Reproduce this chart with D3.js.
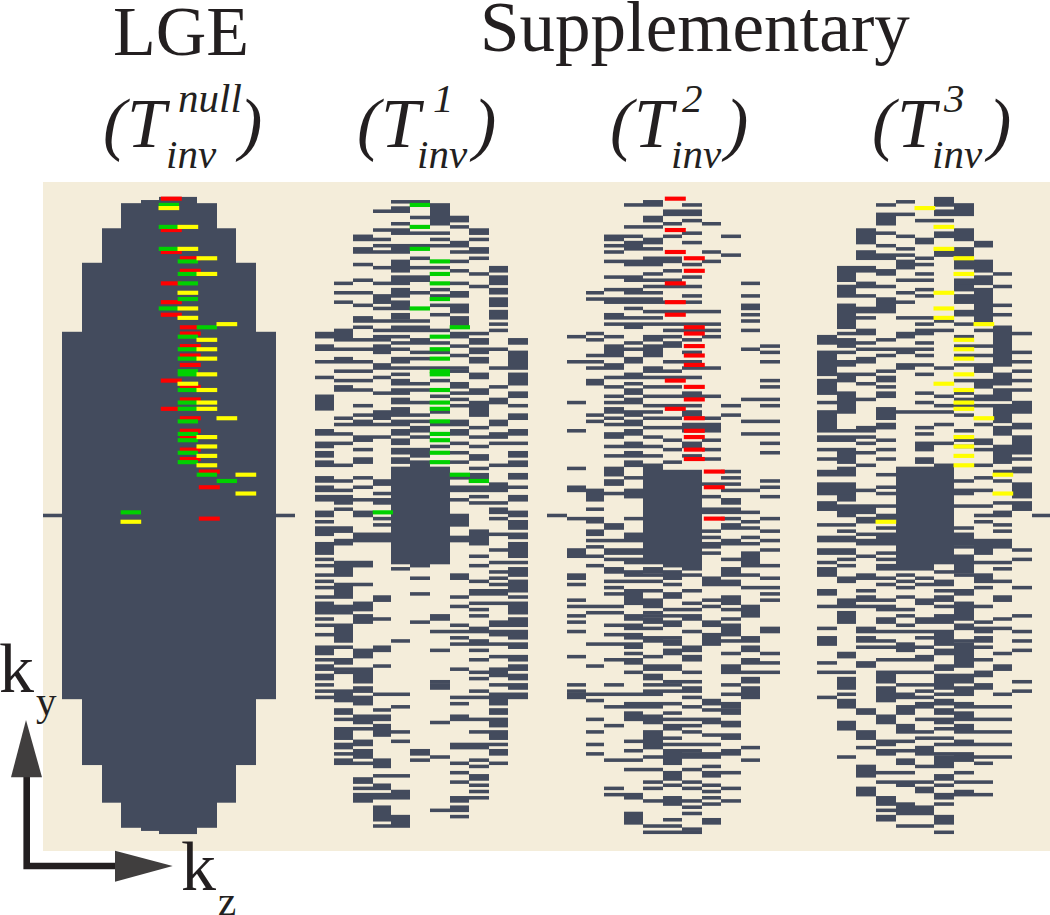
<!DOCTYPE html>
<html>
<head>
<meta charset="utf-8">
<style>
  html, body { margin: 0; padding: 0; background: #fff; }
  svg { display: block; }
  text { font-family: "Liberation Serif", serif; fill: #231f20; }
</style>
<script src="https://cdn.jsdelivr.net/npm/d3@7"></script>
</head>
<body>
<div class="chart"></div>
<script>
// rows sampled per kz column: a number is one ky row, a pair is a run of rows
const lgeDark = [
  [[43,159]], [[21,180]], [[10,192]], [[2,200]], [[1,201]], [[0,202]],
  [[0,202]], [[2,200]], [[10,192]], [[21,180]], [[43,159]]
];

const t1Dark = [
  [[43,44],[47,48],52,57,[63,67],[74,75],[78,79],[81,82],[84,85],[89,90],[92,93],[95,96],[100,101],103,[105,107],[110,113],115,117,120,122,124,127,[129,132],134,136,139,[143,145],147,[149,150],[152,153],155,157,159],
  [27,30,33,[42,45],48,[51,52],55,58,[60,61],70,72,75,78,85,90,93,[95,97],99,[105,106],[109,110],[116,120],[123,127],[130,132],[136,141],143,[147,148],150,151,[157,160],[163,164],166,[169,172],[174,175],177,[179,180]],
  [[12,13],[16,17],21,26,30,34,[38,39],41,45,48,52,55,58,61,66,69,[71,72],[76,77],80,[83,84],89,92,96,[100,101],107,[108,109],[116,117],123,[129,131],[133,135],[144,146],[150,154],[156,157],[159,161],[165,167],169,[173,174],[176,178],180,[185,186],188,[190,192]],
  [4,10,13,15,17,22,27,[31,33],35,39,42,44,45,[47,49],[53,54],57,62,[68,70],72,76,[90,91],94,[96,97],102,104,[107,109],[127,128],134,[143,144],149,158,163,[165,166],[168,171],[179,181],184,[187,188],[190,191],[194,198],200],
  [1,[3,4],8,[10,11],[15,17],[20,23],[25,27],[29,31],[33,35],[37,38],39,[41,42],44,46,48,[51,52],54,56,[58,59],[61,62],[64,65],[67,69],[71,72],[74,75],[77,78],[80,81],[83,84],[86,116],118,141,158,162,170,173,184,[189,191],[197,200]],
  [1,6,11,15,19,22,[25,26],30,39,[41,42],[45,46],49,51,54,59,61,65,69,71,[73,74],76,[80,82],[84,117],121,126,135,[176,177],179],
  [[2,8],11,13,15,22,29,31,34,37,42,46,49,54,58,63,68,72,79,[86,116],[133,134],138,144,154,[155,156],167,178,195],
  [[6,7],9,[14,15],17,20,23,27,[30,31],[34,36],[38,40],[43,44],47,50,54,55,[59,60],62,64,66,[71,72],[74,75],78,81,84,89,[92,93],96,101,102,[103,104],108,109,[120,121],127,130,136,138,140,142,150,159,161,[165,166],[174,175],180,183,186,[191,192],[194,195],197],
  [[10,11],13,[16,17],19,24,28,43,[45,46],[48,49],[51,52],[56,57],[61,62],[65,69],73,76,79,[82,83],86,[88,89],[92,93],95,97,[106,110],114,117,122,[125,126],129,131,133,[137,138],[141,142],144,147,151,153,157,159,166,170,[174,175],179,181,[184,185],187,189,191],
  [[22,23],[25,27],[29,30],[32,34],[36,38],40,42,48,54,60,[64,65],[71,72],[75,76],78,85,[91,93],97,[99,100],102,107,112,116,119,121,123,[125,126],129,[135,136],[138,139],142,146,[150,152],155,[158,161],[163,164],[166,168],[170,172],174,[176,177],180],
  [[45,46],[49,54],[56,59],[62,63],66,[69,70],[74,75],78,[81,82],[84,85],[88,89],92,[95,96],[100,101],[103,105],[107,108],[110,114],116,[118,120],[122,125],127,[129,132],[134,136],[138,140],[142,143],[146,147],[149,150],[152,153],[155,156],[158,159]]
];

const t2Dark = [
  [44,52,65,74,86,[92,93],102,[112,114],[120,121],123,128,130,133,135,138,146,155,157,[158,159]],
  [30,32,43,45,50,52,54,[58,59],69,71,[93,96],99,102,103,[106,107],109,111,114,117,130,132,142,149,158,160,166,170,174,177],
  [[12,13],15,17,20,25,29,[32,33],[37,38],40,44,[47,50],[53,54],57,60,63,65,[67,68],70,72,[75,76],79,82,[86,88],[90,91],94,[104,105],109,[112,113],115,[118,119],122,124,126,130,132,136,139,142,147,155,158,162,168,179,188,190],
  [2,9,12,[14,16],[20,21],[25,26],[29,30],[32,33],35,38,[40,41],46,48,[51,52],[56,57],59,[61,62],[64,65],[68,69],[71,72],[74,75],[78,79],[81,82],[84,85],89,[93,95],102,[107,108],109,[112,113],115,116,[119,120],122,[125,129],[133,134],[136,137],[139,140],[142,143],145,[147,148],151,158,[161,162],[164,166],173,176,179,182,190,191,196,[197,199]],
  [[1,2],[6,7],9,[13,14],16,[19,21],24,26,28,30,[32,33],36,38,40,[44,45],[47,50],[54,55],57,60,63,66,68,70,73,76,79,82,[85,116],[118,119],120,122,125,[128,130],132,133,[134,135],137,[140,141],146,[149,150],[152,153],155,[157,158],[161,162],[165,167],[170,175],178,182,186,188,192,200,202],
  [[4,5],8,12,[19,20],23,26,28,33,36,40,42,44,[46,47],52,55,57,60,63,66,70,73,77,80,84,[87,117],[119,121],123,[126,127],131,133,[135,136],140,[141,142],[144,145],[149,150],154,155,157,161,164,166,[168,169],172,174,[176,180],[183,185],187,[191,193],198,200,202],
  [2,[4,5],7,11,14,21,25,28,31,33,36,40,42,45,49,52,54,57,[62,63],66,[68,69],[72,74],[78,79],82,[87,118],120,125,129,131,[133,134],138,[143,144],[146,147],151,154,[156,157],159,162,166,168,170,174,176,[177,178],182,186,188,192,194,196,201,202],
  [8,17,20,36,40,42,44,54,63,70,[72,74],77,80,83,91,95,[99,100],106,108,[110,111],113,[121,123],128,130,[135,136],[139,142],[160,161],163,[166,167],171,174,[177,178],181,[183,184],187,189,191,193,[198,199]],
  [12,18,66,69,87,89,91,93,[96,97],[99,100],102,[104,105],[109,110],115,[118,120],[122,123],[127,129],131,134,[136,139],141,145,[149,151],155,158,[161,162],[163,164],[167,168],[171,172],[176,177],183,188,192],
  [27,31,[34,35],37,39,42,48,64,71,75,93,100,103,105,108,110,[113,117],120,124,[130,133],[140,141],[143,144],[147,148],151,[153,154],[156,159],175,179],
  [47,49,52,58,60,64,66,71,75,78,81,90,92,95,102,106,109,112,117,121,124,126,128,[137,138],145,148,151]
];

const t3Dark = [
  [[44,46],[49,56],[58,62],65,[68,74],[76,77],80,83,[87,88],[91,94],[97,99],104,[108,109],[112,113],116,[118,120],[125,126],130,137,[140,142],148,151,159],
  [[22,26],[28,31],[34,41],43,[45,47],49,[52,53],[56,58],[62,68],74,[76,77],[80,84],[86,88],[91,94],[95,96],[98,101],104,106,[108,109],[112,113],115,117,[121,122],[128,130],[132,135],[145,146],151,[153,156],158,[160,162],[167,169],178],
  [[10,14],[17,19],[22,23],[27,28],31,[35,36],38,42,43,46,48,[51,52],56,59,64,[73,74],76,78,81,85,93,[98,99],100,102,103,107,[109,110],114,[120,121],125,[127,128],130,[137,138],[140,141],143,[148,149],[163,164],[170,172],175,[181,184],[188,190]],
  [2,[5,8],11,15,[18,19],[23,24],28,[32,36],45,48,50,55,[57,58],60,[62,63],[67,70],[72,73],77,80,83,88,92,94,98,[101,102],105,[107,108],[109,110],113,115,[117,118],121,123,128,[130,131],[134,135],138,141,143,147,[151,154],[156,160],[165,167],[173,174],[176,177],183,186,[191,193],195,[197,198]],
  [1,5,12,16,18,[20,22],26,30,33,38,[43,44],[48,49],[53,54],68,[86,118],120,122,124,127,131,133,136,138,[142,144],147,151,155,[158,159],[162,164],[168,170],173,176,[179,180],183,[186,187],[193,196],200],
  [7,[13,14],19,21,24,26,29,31,38,40,[42,43],46,48,50,53,56,62,65,68,73,75,[78,80],[83,84],[86,118],121,123,[128,129],[134,135],138,140,143,[146,147],151,155,157,159,[161,162],166,170,172,[175,177],181,186,[188,189],[194,196],200],
  [[0,2],[4,5],7,[11,12],[17,18],39,42,54,63,66,68,72,78,[85,116],119,[122,123],125,[127,128],130,[133,135],[138,142],[144,145],[149,150],[152,156],158,[160,161],[163,164],[166,167],169,172,174,177,[178,181],[184,185],187,[190,191],193,[197,199],202],
  [[2,5],[10,13],[16,18],[20,22],[26,27],[28,29],[31,33],[36,37],40,44,47,50,53,58,62,64,66,69,74,77,79,90,[93,94],98,105,[107,110],111,[114,119],120,[125,126],[129,134],[136,137],141,[142,149],[152,154],[156,158],[161,162],[164,166],[168,170],[173,174],[177,179],183,186,189,190],
  [[14,15],[20,23],[25,27],[29,39],42,47,50,[53,55],[58,60],[63,64],66,72,[77,78],80,85,89,93,98,101,103,[109,113],116,[120,122],124,130,135,[137,138],[140,141],143,147,[151,152],[155,156],162,166,170,174,178,180,186,190],
  [24,28,34,37,[41,53],[56,59],[61,64],[66,71],[73,75],[79,84],87,90,97,[100,101],104,106,[109,111],116,118,122,[127,128],134,137,145,[149,150],158,162,166,170,174,178],
  [43,49,52,55,58,61,[65,68],[72,73],[76,81],83,[86,87],[91,95],[97,99],112,115,124,133,138,141,144,154,157]
];

// [kz column, ky row] of the shots coloured in each supplementary scan
const greenShots = [[5,2],[5,9],[5,16],[6,20],[6,24],[6,27],[6,32],[5,35],[7,41],[6,44],[6,48],[6,51],[6,55],[6,56],[6,61],[6,65],[6,67],[6,71],[6,75],[6,77],[6,81],[6,84],[7,88],[8,90],[3,100]];
const redShots = [[5,0],[5,10],[5,17],[6,19],[6,23],[5,27],[5,33],[5,37],[6,41],[6,43],[6,47],[6,50],[6,53],[5,58],[6,60],[6,64],[5,67],[6,70],[6,74],[6,76],[6,80],[6,83],[7,87],[7,92],[7,102]];
const yellowShots = [[5,3],[6,9],[6,16],[7,19],[7,24],[6,30],[6,35],[6,38],[8,40],[7,45],[7,48],[7,51],[7,56],[6,59],[7,61],[7,65],[7,67],[8,70],[7,76],[7,79],[7,82],[7,85],[9,88],[9,94],[3,103]];

const centreRow = 101;
const rowCount = 204;

const margin = {top: 197.1, bottom: 837};
const dark = '#434b5d';

// measured left edges of the columns, one more for the right side
const lgeEdges = [62.3, 82, 101.7, 121, 140.7, 158.7, 178, 197.3, 216.7, 236.3, 256, 275.7];
const t1Edges = [314.7, 334, 353.3, 373, 391, 410.3, 430, 449.7, 469, 488.7, 508.3, 527.7];
const t2Edges = [566.7, 586, 604.3, 623.7, 643.3, 662.7, 682.3, 702, 721.3, 741, 760.3, 780];
const t3Edges = [817.3, 837, 856.3, 876, 895.7, 915, 934.3, 954, 973.7, 993, 1012.3, 1032];

const panels = [
  {dark: lgeDark, edges: lgeEdges, sides: [-1, 11], shots: ['red', 'green', 'yellow']},
  {dark: t1Dark, edges: t1Edges, sides: [], shots: ['green']},
  {dark: t2Dark, edges: t2Edges, sides: [-1], shots: ['red']},
  {dark: t3Dark, edges: t3Edges, sides: [11], shots: ['yellow']}
];

const shotStyles = {
  red: {data: redShots, fill: '#ff0000', dx: 1.8, w: 21},
  green: {data: greenShots, fill: '#00d000', dx: -0.3, w: 20.3},
  yellow: {data: yellowShots, fill: '#ffff00', dx: -0.5, w: 20.7}
};

const labels = [
  {t: 'LGE', x: 113, y: 55, s: 70},
  {t: 'Supplementary', x: 480, y: 51, s: 71},
  {t: '(', x: 103, y: 147, s: 70, i: 1}, {t: 'T', x: 127, y: 147, s: 70, i: 1},
  {t: 'null', x: 178, y: 112, s: 41, i: 1}, {t: 'inv', x: 166, y: 168, s: 41, i: 1}, {t: ')', x: 239, y: 147, s: 70, i: 1},
  {t: '(', x: 357, y: 147, s: 70, i: 1}, {t: 'T', x: 381, y: 147, s: 70, i: 1},
  {t: '1', x: 433, y: 112, s: 41, i: 1}, {t: 'inv', x: 417, y: 168, s: 41, i: 1}, {t: ')', x: 473, y: 147, s: 70, i: 1},
  {t: '(', x: 610, y: 147, s: 70, i: 1}, {t: 'T', x: 634, y: 147, s: 70, i: 1},
  {t: '2', x: 682, y: 112, s: 41, i: 1}, {t: 'inv', x: 671, y: 168, s: 41, i: 1}, {t: ')', x: 725, y: 147, s: 70, i: 1},
  {t: '(', x: 872, y: 147, s: 70, i: 1}, {t: 'T', x: 897, y: 147, s: 70, i: 1},
  {t: '3', x: 944, y: 112, s: 41, i: 1}, {t: 'inv', x: 932, y: 168, s: 41, i: 1}, {t: ')', x: 988, y: 147, s: 70, i: 1},
  {t: 'k', x: -1, y: 692, s: 70}, {t: 'y', x: 36, y: 715, s: 41},
  {t: 'k', x: 181, y: 890, s: 70}, {t: 'z', x: 218, y: 915, s: 41}
];

const svg = d3.select('.chart')
  .append('svg')
  .attr('width', 1050)
  .attr('height', 915);

svg.append('rect')
  .attr('x', 43)
  .attr('y', 182)
  .attr('width', 1007)
  .attr('height', 669)
  .style('fill', '#f4edda');

let yScale = d3.scaleBand()
  .domain(d3.range(rowCount))
  .range([margin.top, margin.bottom]);

// a number stays one row, a pair stays a run
const toRuns = (columns) => columns.flatMap((rows, col) =>
  rows.map(r => Array.isArray(r) ? {col, from: r[0], to: r[1]} : {col, from: r, to: r}));

panels.forEach(panel => {
  // piecewise so the slightly uneven columns of the figure are kept,
  // rounded so neighbouring columns show no seam
  let xScale = d3.scaleLinear()
    .domain(d3.range(-1, 13))
    .rangeRound([panel.edges[0] - 19.4, ...panel.edges, panel.edges[11] + 19.4]);

  let g = svg.append('g');
  let runs = toRuns(panel.dark).concat(panel.sides.map(col => ({col, from: centreRow, to: centreRow})));

  g.selectAll('rect.dark')
    .data(runs)
    .enter()
    .append('rect')
    .attr('class', 'dark')
    .attr('x', d => xScale(d.col))
    .attr('y', d => yScale(d.from) - 0.2)
    .attr('width', d => xScale(d.col + 1) - xScale(d.col))
    .attr('height', d => yScale(d.to) + yScale.bandwidth() - yScale(d.from) + 0.4)
    .style('fill', dark);

  panel.shots.forEach(name => {
    let st = shotStyles[name];
    g.selectAll('rect.' + name)
      .data(st.data)
      .enter()
      .append('rect')
      .attr('class', name)
      .attr('x', d => xScale(d[0]) + st.dx)
      .attr('y', d => yScale(d[1]) - 0.5)
      .attr('width', st.w)
      .attr('height', yScale.bandwidth() + 1)
      .style('fill', st.fill);
  });
});

// ky / kz arrows
svg.append('path')
  .attr('d', 'M26.7 777V866H115')
  .style('fill', 'none')
  .style('stroke', '#231f20')
  .style('stroke-width', 6.6);
svg.append('path')
  .attr('d', 'M26 720L42 777.3H11Z')
  .style('fill', '#403e3e');
svg.append('path')
  .attr('d', 'M172.7 866L115 850.7V881.7Z')
  .style('fill', '#403e3e');

svg.selectAll('text')
  .data(labels)
  .enter()
  .append('text')
  .attr('x', d => d.x)
  .attr('y', d => d.y)
  .style('font-size', d => d.s + 'px')
  .style('font-style', d => d.i ? 'italic' : 'normal')
  .text(d => d.t);
</script>
</body>
</html>
